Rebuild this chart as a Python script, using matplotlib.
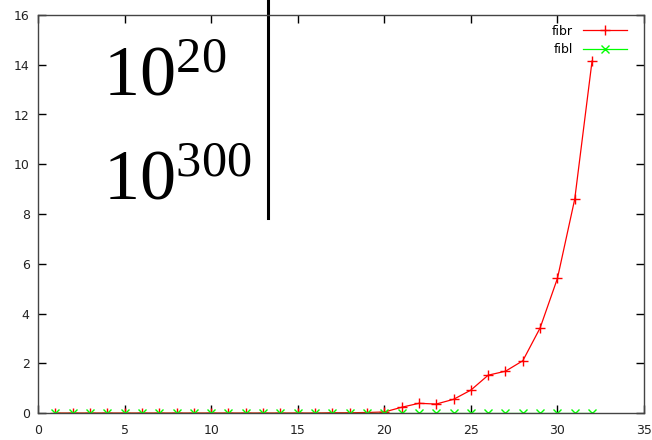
import matplotlib
matplotlib.use("Agg")
from matplotlib import pyplot as plt

x_vals = list(range(1, 33))
fibr = [0, 0, 0, 0, 0, 0, 0, 0, 0, 0, 0, 0, 0, 0, 0, 0, 0.01, 0.01, 0.02, 0.04,
        0.23, 0.39, 0.36, 0.55, 0.92, 1.52, 1.68, 2.10, 3.42, 5.41, 8.60, 14.15]
fibl = [0] * 32

plt.rcParams['mathtext.fontset'] = 'custom'
plt.rcParams['mathtext.rm'] = 'Liberation Serif'
plt.rcParams['mathtext.it'] = 'Liberation Serif:italic'
plt.rcParams['font.family'] = 'DejaVu Sans'

fig = plt.figure(figsize=(6.52, 4.40), dpi=100)
ax = fig.add_axes([38 / 652, 27 / 440, 606 / 652, 398 / 440])

ax.plot(x_vals, fibr, color='#ff0000', lw=0.9, marker='+', ms=6.5, mew=1, label='fibr')
ax.plot(x_vals, fibl, color='#00ff00', lw=0.9, marker='x', ms=6, mew=1, label='fibl')

ax.set_xlim(0, 35)
ax.set_ylim(0, 16)
ax.set_xticks(range(0, 36, 5))
ax.set_yticks(range(0, 17, 2))
ax.tick_params(direction='in', length=6, width=1, top=True, right=True,
               labelsize=9, labelcolor='#222222')
ax.tick_params(axis='x', pad=8)
ax.tick_params(axis='y', pad=6)
for side in ax.spines.values():
    side.set_color('#444444')
    side.set_linewidth(1)

ax.legend(loc='upper right', markerfirst=False, frameon=False, fontsize=9,
          handlelength=3.5, handletextpad=0.8, labelspacing=0.44,
          borderaxespad=0, bbox_to_anchor=(0.980, 0.988))

# big annotation and vertical bar
ax.text(103, 440 - 95, r'$10^{20}$', transform=None, fontsize=52,
        va='baseline', ha='left')
ax.text(103, 440 - 199, r'$10^{300}$', transform=None, fontsize=52,
        va='baseline', ha='left')
ax.plot([13.3, 13.3], [7.85, 16.7], color='black', lw=2.2, clip_on=False)

fig.savefig('out.png', dpi=100)
